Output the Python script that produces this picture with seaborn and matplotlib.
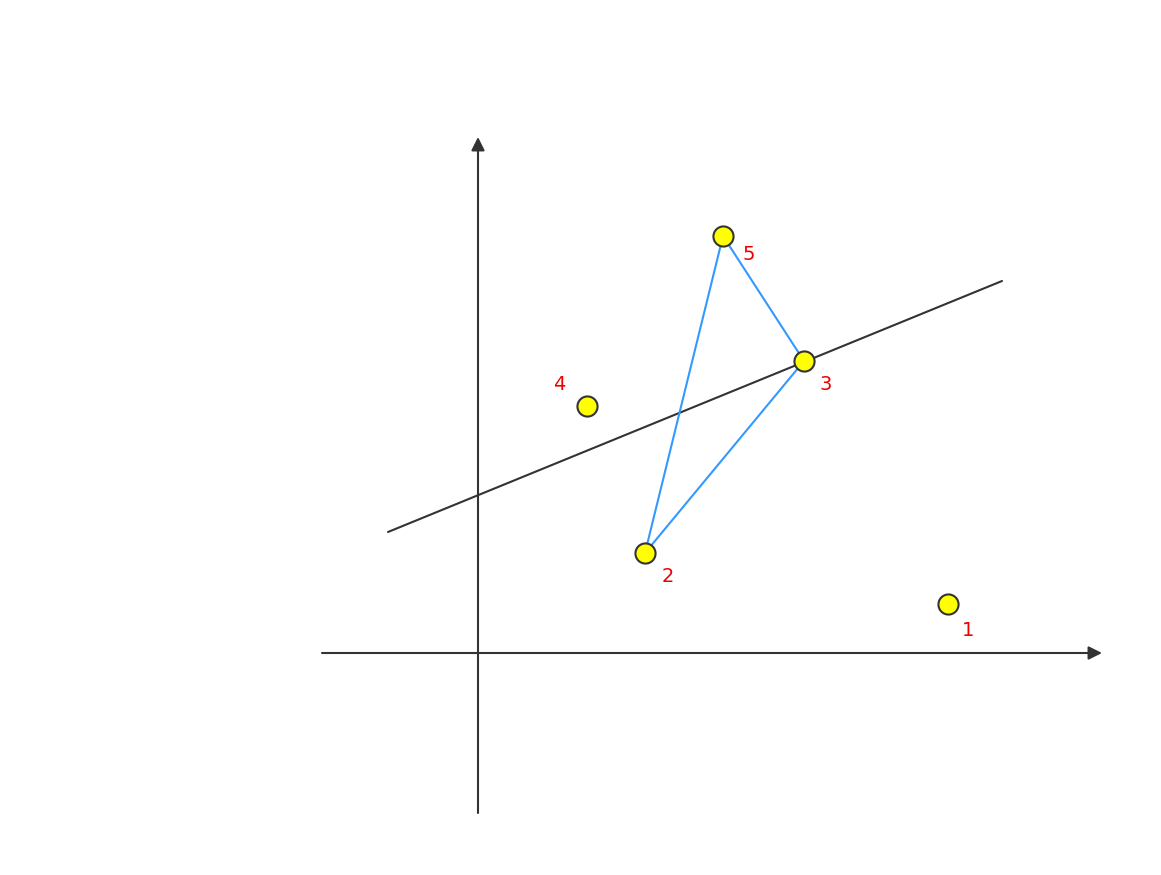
import matplotlib
matplotlib.use("Agg")
import matplotlib.pyplot as plt
import seaborn as sns
import pandas as pd

sns.set_theme(style="white")
plt.rcParams["font.family"] = ["DejaVu Sans"]

# points (data units, origin at axes crossing)
point_ids = ["1", "2", "3", "4", "5"]
point_x = [9.40, 3.34, 6.52, 2.18, 4.90]
point_y = [0.98, 2.00, 5.84, 4.94, 8.34]

# fitted line end points
line_x = [-1.80, 10.48]
line_y = [2.42, 7.44]

# triangle through points 2 -> 5 -> 3 -> 2
tri_order = ["2", "5", "3", "2"]

pts = pd.DataFrame({"id": point_ids, "x": point_x, "y": point_y})
tri = pts.set_index("id").loc[tri_order].reset_index()
line = pd.DataFrame({"x": line_x, "y": line_y})

fig = plt.figure(figsize=(11.61, 8.75), dpi=100)
ax = fig.add_axes([0, 0, 1, 1])
ax.set_xlim(-9.56, 13.66)
ax.set_ylim(-4.44, 13.06)
ax.axis("off")

# axes with arrows
arrow = dict(arrowstyle="-|>", color="#333333", lw=1.5, mutation_scale=20,
             shrinkA=0, shrinkB=0)
ax.annotate("", xy=(12.48, 0), xytext=(-3.12, 0), arrowprops=arrow)
ax.annotate("", xy=(0, 10.32), xytext=(0, -3.2), arrowprops=arrow)

sns.lineplot(data=line, x="x", y="y", color="#333333", lw=1.5, ax=ax, sort=False)
sns.lineplot(data=tri, x="x", y="y", color="#3399ff", lw=1.5, ax=ax,
             sort=False, estimator=None)
sns.scatterplot(data=pts, x="x", y="y", s=210, color="#ffff00",
                edgecolor="#333333", linewidth=1.5, ax=ax, zorder=5)

# label offsets in pixels (dx right, dy down)
label_offsets = {"1": (20, 26), "2": (23, 23), "3": (22, 24),
                 "4": (-28, -21), "5": (26, 18)}
for pid, x, y in zip(point_ids, point_x, point_y):
    dx, dy = label_offsets[pid]
    ax.annotate(pid, xy=(x, y), xytext=(dx * 0.72, -dy * 0.72),
                textcoords="offset points", ha="center", va="center",
                color="#ee0000", fontsize=14)

ax.set_xlabel("")
ax.set_ylabel("")
fig.savefig("out.png", dpi=100)
